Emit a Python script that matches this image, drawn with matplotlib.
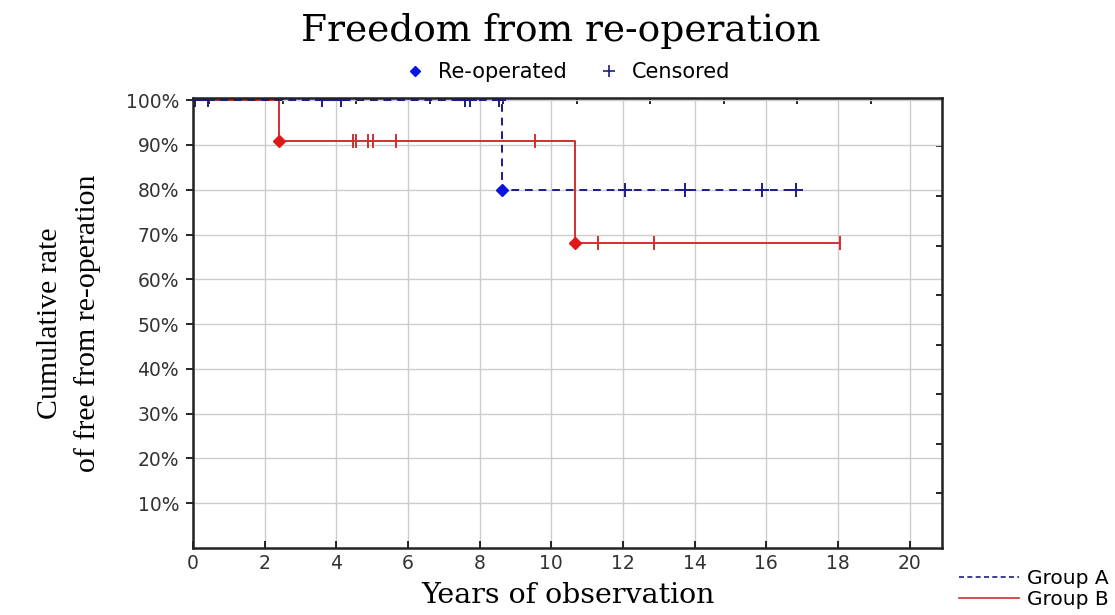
import matplotlib
matplotlib.use("Agg")
import matplotlib.pyplot as plt
from matplotlib.lines import Line2D

# Kaplan-Meier style data
group_a_times = [0.0, 8.62, 16.82]
group_a_surv = [1.0, 0.80, 0.80]
group_a_events_t = [8.62]
group_a_events_s = [0.80]
group_a_cens_t = [0.05, 0.42, 3.6, 4.13, 7.59, 7.73, 8.54, 12.05, 13.72, 15.87, 16.82]
group_a_cens_s = [1.0, 1.0, 1.0, 1.0, 1.0, 1.0, 1.0, 0.80, 0.80, 0.80, 0.80]

group_b_times = [0.0, 2.40, 10.65, 18.05]
group_b_surv = [1.0, 0.909, 0.682, 0.682]
group_b_events_t = [2.40, 10.65]
group_b_events_s = [0.909, 0.682]
group_b_cens_t = [4.46, 4.55, 4.88, 5.02, 5.66, 9.54, 11.3, 12.86, 18.05]
group_b_cens_s = [0.909, 0.909, 0.909, 0.909, 0.909, 0.909, 0.682, 0.682, 0.682]

x_ticks = [0, 2, 4, 6, 8, 10, 12, 14, 16, 18, 20]
y_ticks = [0.1, 0.2, 0.3, 0.4, 0.5, 0.6, 0.7, 0.8, 0.9, 1.0]
y_labels = ["10%", "20%", "30%", "40%", "50%", "60%", "70%", "80%", "90%", "100%"]

blue_line = "#1c1c8a"
blue_mark = "#0a14e0"
red_line = "#d03030"
red_mark = "#e01818"

fig = plt.figure(figsize=(11.15, 6.15), dpi=100)
ax = fig.add_axes([0.1731, 0.1089, 0.6717, 0.7318])

ax.plot(group_b_times, group_b_surv, drawstyle="steps-post", color=red_line, lw=1.4)
ax.plot(group_b_cens_t, group_b_cens_s, ls="none", marker="|", ms=10, mew=1.4, color=red_line)
ax.plot(group_b_events_t, group_b_events_s, ls="none", marker="D", ms=6, color=red_mark)

ax.plot(group_a_times, group_a_surv, drawstyle="steps-post", color=blue_line, lw=1.4,
        dashes=(4, 3))
ax.plot(group_a_cens_t, group_a_cens_s, ls="none", marker="+", ms=10, mew=1.4, color=blue_line)
ax.plot(group_a_events_t, group_a_events_s, ls="none", marker="D", ms=6, color=blue_mark)

ax.set_xlim(0, 20.9)
ax.set_ylim(0, 1.005)
ax.set_xticks(x_ticks)
ax.set_yticks(y_ticks)
ax.set_yticklabels(y_labels)
ax.grid(True, color="#cccccc", lw=1)
ax.set_axisbelow(True)
for s in ax.spines.values():
    s.set_linewidth(1.8)
    s.set_color("#222222")
ax.tick_params(axis="x", direction="in", length=5, width=1.2, labelsize=13.5, pad=4)
ax.tick_params(axis="y", direction="out", length=5, width=1.2, labelsize=13.5, pad=5)
for lab in ax.get_xticklabels() + ax.get_yticklabels():
    lab.set_color("#333333")

# odd tick marks on the top and right frame
top = ax.secondary_xaxis("top")
top.set_xticks([0.46 + 2.05 * k for k in range(11)])
top.tick_params(direction="in", length=4, width=1.2, labeltop=False)
right = ax.secondary_yaxis("right")
right.set_yticks([0.122 + 0.1107 * k for k in range(8)])
right.tick_params(direction="in", length=4, width=1.2, labelright=False)

ax.set_xlabel("Years of observation", family="DejaVu Serif", fontsize=20.5, labelpad=7)
ax.set_ylabel("Cumulative rate\nof free from re-operation", family="Liberation Serif",
              fontsize=21.5, linespacing=1.5, labelpad=18)
fig.text(0.503, 0.95, "Freedom from re-operation", family="DejaVu Serif", fontsize=27,
         ha="center", va="center")

# marker legend above the plot
h1 = Line2D([], [], ls="none", marker="D", ms=5, color=blue_mark)
h2 = Line2D([], [], ls="none", marker="+", ms=8, mew=1.2, color=blue_line)
fig.legend([h1, h2], ["Re-operated", "Censored"], loc="center", bbox_to_anchor=(0.508, 0.883),
           ncol=2, frameon=False, fontsize=15, handlelength=1.2, columnspacing=1.4,
           handletextpad=0.5)

# group legend in the lower right corner
g1 = Line2D([], [], color=blue_line, lw=1.2, dashes=(3, 2))
g2 = Line2D([], [], color=red_line, lw=1.2)
fig.legend([g1, g2], ["Group A", "Group B"], loc="center", bbox_to_anchor=(0.927, 0.042),
           frameon=False, fontsize=14.5, handlelength=3.0, handletextpad=0.4, labelspacing=0.1)

fig.savefig("out.png", dpi=100)
